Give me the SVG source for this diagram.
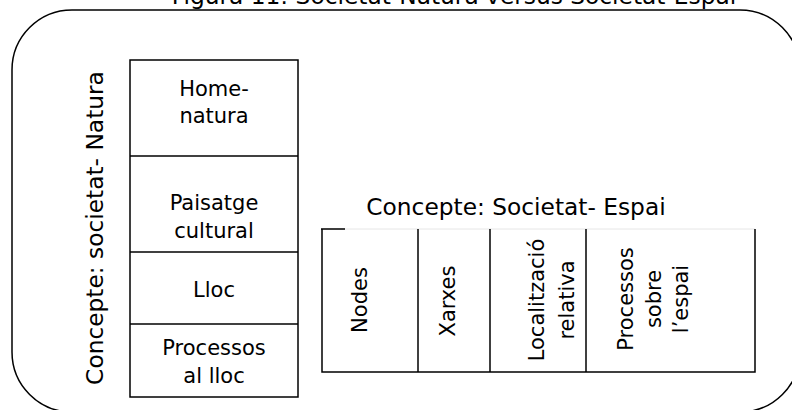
<svg xmlns="http://www.w3.org/2000/svg" width="792" height="410" viewBox="0 0 792 410">
<style>
text{font-family:"DejaVu Sans",Verdana,sans-serif;fill:#000}
.c{text-anchor:middle}
.box{fill:#fff;stroke:#000;stroke-width:1.5}
.ln{stroke:#000;stroke-width:1.5;fill:none}
.t21{font-size:21px}
.t23{font-size:23.3px}
</style>
<rect width="792" height="410" fill="#fff"/>
<g id="title"><text class="c t23" x="454" y="4">Figura 11: Societat-Natura versus Societat-Espai</text></g>
<g id="frame"><rect x="12" y="10" width="788" height="402" rx="60" ry="60" fill="none" stroke="#000" stroke-width="1.5"/></g>
<g id="left-label"><text class="c t23" transform="translate(103,228) rotate(-90)">Concepte: societat- Natura</text></g>
<g id="left-column">
<rect class="box" x="130" y="60" width="168" height="337"/>
<line class="ln" x1="130" y1="156" x2="298" y2="156"/>
<line class="ln" x1="130" y1="252" x2="298" y2="252"/>
<line class="ln" x1="130" y1="324" x2="298" y2="324"/>
</g>
<g id="home-natura"><text class="c t21" x="214" y="96">Home-</text><text class="c t21" x="214" y="123">natura</text></g>
<g id="paisatge"><text class="c t21" x="214" y="210">Paisatge</text><text class="c t21" x="214" y="238">cultural</text></g>
<g id="lloc"><text class="c t21" x="214" y="297">Lloc</text></g>
<g id="processos-lloc"><text class="c t21" x="214" y="355">Processos</text><text class="c t21" x="214" y="383">al lloc</text></g>
<g id="right-label"><text class="c t23" x="516" y="215">Concepte: Societat- Espai</text></g>
<g id="right-row">
<line x1="322" y1="229" x2="755" y2="229" stroke="#e6e6e6" stroke-width="1"/>
<line class="ln" x1="321" y1="229" x2="345" y2="229"/>
<polyline class="ln" points="322,229 322,372 755,372 755,229"/>
<line class="ln" x1="418" y1="229" x2="418" y2="372"/>
<line class="ln" x1="490" y1="229" x2="490" y2="372"/>
<line class="ln" x1="586" y1="229" x2="586" y2="372"/>
</g>
<g id="nodes"><text class="c t21" transform="translate(367,300) rotate(-90)">Nodes</text></g>
<g id="xarxes"><text class="c t21" transform="translate(455,301) rotate(-90)">Xarxes</text></g>
<g id="localitzacio"><text class="c t21" transform="translate(544,300) rotate(-90)">Localització</text><text class="c t21" transform="translate(574,300) rotate(-90)">relativa</text></g>
<g id="processos-espai"><text class="c t21" transform="translate(633,299) rotate(-90)">Processos</text><text class="c t21" transform="translate(661,299) rotate(-90)">sobre</text><text class="c t21" transform="translate(688,299) rotate(-90)">l’espai</text></g>
</svg>
